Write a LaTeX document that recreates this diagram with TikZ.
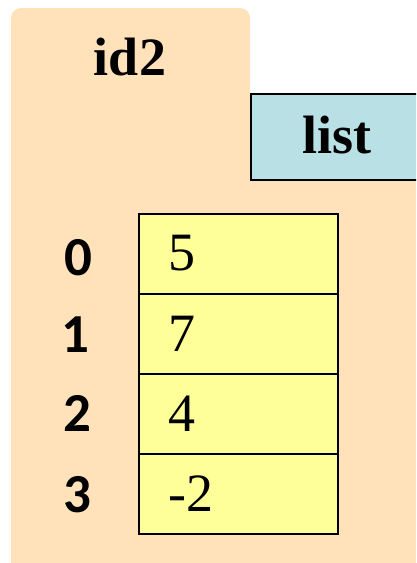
\documentclass[tikz,border=0pt]{standalone}
\usepackage{fontspec}
\setmainfont{Liberation Serif}
\newfontfamily\idxfont{Carlito}
\definecolor{folderfill}{HTML}{FFE2B9}
\definecolor{listfill}{HTML}{B9E0E4}
\definecolor{cellfill}{HTML}{FFFF99}
\tikzset{
  cellbox/.style={draw=black, line width=2pt, fill=cellfill, minimum width=199pt, minimum height=80pt, anchor=north west, inner sep=0pt},
  valtext/.style={anchor=base west, inner sep=0pt, font=\fontsize{54}{60}\selectfont},
  idxtext/.style={anchor=base, inner sep=0pt, font=\idxfont\bfseries\fontsize{55}{60}\selectfont},
  titletext/.style={anchor=base, inner sep=0pt, font=\bfseries\fontsize{54}{60}\selectfont}
}
\begin{document}
\begin{tikzpicture}[x=1pt,y=-1pt]
\useasboundingbox (0,0) rectangle (416,563);
% folder
\fill[folderfill] (11,563) -- (11,93) -- (416,93) -- (416,563) -- cycle;
\fill[folderfill, rounded corners=10pt] (11,130) -- (11,8) -- (250,8) -- (250,130) -- cycle;
\node[titletext] (id) at (130,75) {id2};
% list tab
\begin{scope}
\clip (0,0) rectangle (416,563);
\node[draw=black, line width=1.6pt, fill=listfill, minimum width=200pt, minimum height=86pt, anchor=north west, inner sep=0pt] (listbox) at (250,93) {};
\end{scope}
\node[titletext] (listlbl) at (337,153) {list};
% cells
\node[cellbox] (c0) at (138,213) {};
\node[cellbox] (c1) at (138,293) {};
\node[cellbox] (c2) at (138,373) {};
\node[cellbox] (c3) at (138,453) {};
\node[valtext] (v0) at (168,270) {5};
\node[valtext] (v1) at (168,351) {7};
\node[valtext] (v2) at (168,431) {4};
\node[valtext] (v3) at (168,511) {-2};
\node[idxtext] (i0) at (78,275) {0};
\node[idxtext] (i1) at (75,352) {1};
\node[idxtext] (i2) at (77,431) {2};
\node[idxtext] (i3) at (77,512) {3};
\end{tikzpicture}
\end{document}
